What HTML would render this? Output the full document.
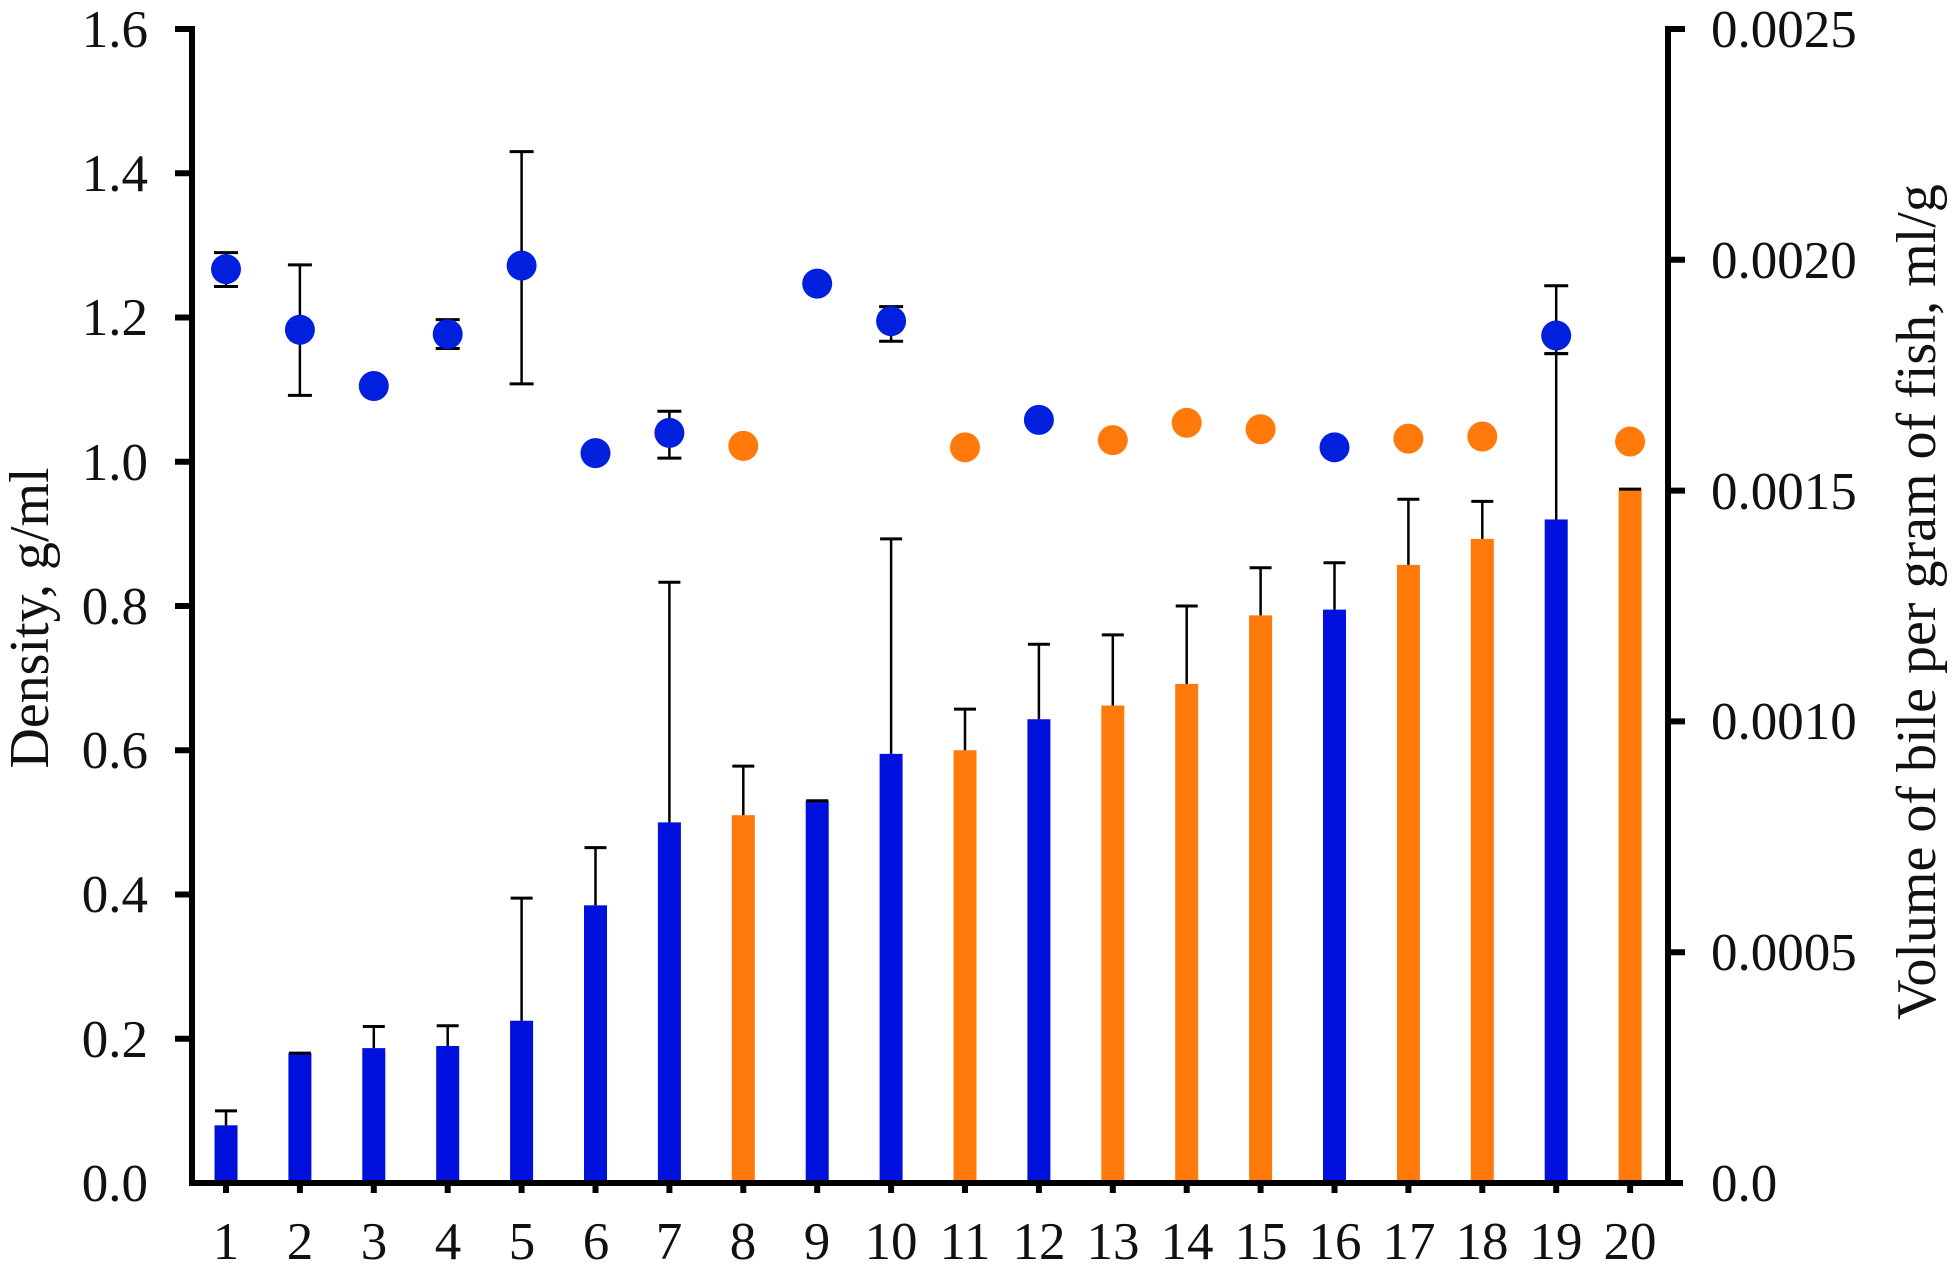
<!DOCTYPE html>
<html><head><meta charset="utf-8"><style>
html,body{margin:0;padding:0;background:#fff;}
svg{display:block;}
text{font-family:"Liberation Serif","Times New Roman",serif;fill:#111;}
</style></head><body>
<svg id="c" width="1958" height="1267" viewBox="0 0 1958 1267" xmlns="http://www.w3.org/2000/svg">
<g id="shapes"></g>
<line x1="192" y1="26" x2="192" y2="1186" stroke="#000" stroke-width="6"/>
<line x1="1668" y1="26" x2="1668" y2="1186" stroke="#000" stroke-width="6"/>
<line x1="189" y1="1183" x2="1683" y2="1183" stroke="#000" stroke-width="6"/>
<g stroke="#000" stroke-width="6">
<line x1="175" y1="29" x2="192" y2="29"/>
<line x1="175" y1="173.3" x2="192" y2="173.3"/>
<line x1="175" y1="317.5" x2="192" y2="317.5"/>
<line x1="175" y1="461.8" x2="192" y2="461.8"/>
<line x1="175" y1="606" x2="192" y2="606"/>
<line x1="175" y1="750.3" x2="192" y2="750.3"/>
<line x1="175" y1="894.5" x2="192" y2="894.5"/>
<line x1="175" y1="1038.8" x2="192" y2="1038.8"/>
<line x1="1668" y1="29" x2="1685" y2="29"/>
<line x1="1668" y1="259.8" x2="1685" y2="259.8"/>
<line x1="1668" y1="490.6" x2="1685" y2="490.6"/>
<line x1="1668" y1="721.4" x2="1685" y2="721.4"/>
<line x1="1668" y1="952.2" x2="1685" y2="952.2"/>
</g>
<g id="xt" stroke="#000" stroke-width="6"></g>
<g font-size="53" text-anchor="end">
<text x="148" y="47">1.6</text>
<text x="148" y="191">1.4</text>
<text x="148" y="335">1.2</text>
<text x="148" y="480">1.0</text>
<text x="148" y="624">0.8</text>
<text x="148" y="768">0.6</text>
<text x="148" y="912">0.4</text>
<text x="148" y="1057">0.2</text>
<text x="148" y="1201">0.0</text>
</g>
<g font-size="53" text-anchor="start">
<text x="1711" y="47">0.0025</text>
<text x="1711" y="278">0.0020</text>
<text x="1711" y="509">0.0015</text>
<text x="1711" y="739">0.0010</text>
<text x="1711" y="970">0.0005</text>
<text x="1711" y="1201">0.0</text>
</g>
<g font-size="53" text-anchor="middle">
<text x="226" y="1259">1</text><text x="300" y="1259">2</text><text x="374" y="1259">3</text><text x="448" y="1259">4</text><text x="522" y="1259">5</text><text x="596" y="1259">6</text><text x="669" y="1259">7</text><text x="743" y="1259">8</text><text x="817" y="1259">9</text><text x="891" y="1259">10</text><text x="965" y="1259">11</text><text x="1039" y="1259">12</text><text x="1113" y="1259">13</text><text x="1187" y="1259">14</text><text x="1261" y="1259">15</text><text x="1335" y="1259">16</text><text x="1409" y="1259">17</text><text x="1482" y="1259">18</text><text x="1556" y="1259">19</text><text x="1630" y="1259">20</text>
</g>
<text font-size="56" text-anchor="middle" transform="translate(48,618) rotate(-90)">Density, g/ml</text>
<text font-size="56" text-anchor="middle" transform="translate(1935,602) rotate(-90)">Volume of bile per gram of fish, ml/g</text>
</svg>
<script>
var B='#0010dd',O='#ff7a0a';
var orange=[8,11,13,14,15,17,18,20];
var bars=[0.08,0.18,0.187,0.19,0.225,0.385,0.5,0.51,0.53,0.595,0.6,0.643,0.662,0.692,0.787,0.795,0.857,0.893,0.92,0.962];
var btop=[0.1,0.18,0.217,0.218,0.395,0.465,0.833,0.578,0.53,0.893,0.657,0.747,0.76,0.8,0.853,0.86,0.948,0.945,1.15,0.962];
var dots=[[1.267,1.243,1.29],[1.183,1.092,1.273],[1.105],[1.177,1.157,1.197],[1.272,1.108,1.43],[1.012],[1.04,1.005,1.07],[1.022],[1.247],[1.195,1.167,1.215],[1.02],[1.058],[1.03],[1.054],[1.045],[1.02],[1.032],[1.035],[1.175,1.15,1.244],[1.028]];
function Y(v){return 1183-v*721.25;}
var s='',t='';
for(var i=0;i<20;i++){
 var x=226+73.9*i,c=orange.indexOf(i+1)>=0?O:B;
 s+='<rect x="'+(x-11.5)+'" y="'+Y(bars[i])+'" width="23" height="'+(1183-Y(bars[i]))+'" fill="'+c+'"/>';
 if(btop[i]>bars[i]+0.001){s+='<line x1="'+x+'" x2="'+x+'" y1="'+Y(bars[i])+'" y2="'+Y(btop[i])+'" stroke="#000" stroke-width="2.5"/><line x1="'+(x-11)+'" x2="'+(x+11)+'" y1="'+Y(btop[i])+'" y2="'+Y(btop[i])+'" stroke="#000" stroke-width="3"/>';}
 else{s+='<line x1="'+(x-11)+'" x2="'+(x+11)+'" y1="'+Y(bars[i])+'" y2="'+Y(bars[i])+'" stroke="#000" stroke-width="3"/>';}
 var d=dots[i];
 if(d.length>1){s+='<line x1="'+x+'" x2="'+x+'" y1="'+Y(d[1])+'" y2="'+Y(d[2])+'" stroke="#000" stroke-width="2.5"/>';
  [d[1],d[2]].forEach(function(v){s+='<line x1="'+(x-12)+'" x2="'+(x+12)+'" y1="'+Y(v)+'" y2="'+Y(v)+'" stroke="#000" stroke-width="3"/>';});}
 s+='<circle cx="'+x+'" cy="'+Y(d[0])+'" r="15" fill="'+(c==O?O:'#0020dd')+'"/>';
 t+='<line x1="'+x+'" x2="'+x+'" y1="1183" y2="1193"/>';
}
document.getElementById('shapes').innerHTML=s;
document.getElementById('xt').innerHTML=t;
</script>
</body></html>
